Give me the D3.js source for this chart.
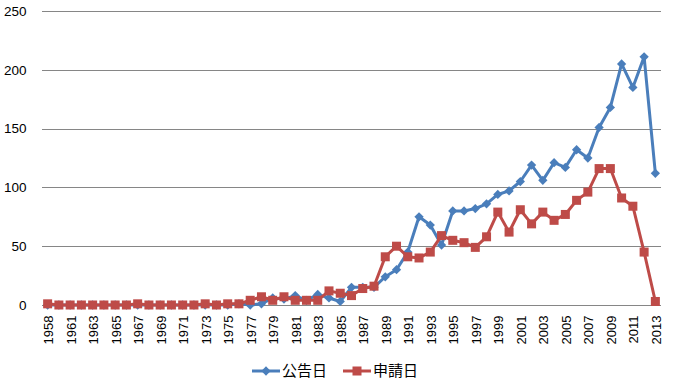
<!DOCTYPE html>
<html><head><meta charset="utf-8">
<script src="https://cdn.jsdelivr.net/npm/d3@7"></script>
<style>html,body{margin:0;padding:0;background:#fff;}svg{display:block;}</style>
</head><body>
<svg id="chart" width="673" height="383"></svg>
<script>
const years = ["1958","1960","1961","1962","1963","1964","1965","1966","1967","1968","1969","1970","1971","1972","1973","1974","1975","1976","1977","1978","1979","1980","1981","1982","1983","1984","1985","1986","1987","1988","1989","1990","1991","1992","1993","1994","1995","1996","1997","1998","1999","2000","2001","2002","2003","2004","2005","2006","2007","2008","2009","2010","2011","2012","2013"];
const koukoku = [0,0,0,0,0,0,0,0,0,0,0,0,0,0,0,0,0,1,0,1,6,5,8,4,9,6,3,15,15,15,24,30,45,75,68,51,80,80,82,86,94,97,105,119,106,121,117,132,125,151,168,205,185,211,112];
const shinsei = [1,0,0,0,0,0,0,0,1,0,0,0,0,0,1,0,1,1,4,7,4,7,4,4,4,12,10,8,14,16,41,50,41,40,45,59,55,53,49,58,79,62,81,69,79,72,77,89,96,116,116,91,84,45,3];
const yTicks = [0,50,100,150,200,250];
const seriesNames = ["公告日","申請日"];
const colors = ["#4A7EBB","#BE4B48"];

const svg = d3.select("#chart");
const pLeft = 42, pRight = 661, pTop = 11, pBottom = 305;
const x = d3.scaleBand().domain(years).range([pLeft, pRight]);
const y = d3.scaleLinear().domain([0,250]).range([pBottom, pTop]);
const cx = d => x(d) + x.bandwidth()/2;

// gridlines
svg.append("g").selectAll("line").data(yTicks).join("line")
  .attr("x1", pLeft).attr("x2", pRight)
  .attr("y1", d => Math.round(y(d))+0.5).attr("y2", d => Math.round(y(d))+0.5)
  .attr("stroke", "#868686").attr("stroke-width", 1);

// y axis labels
const yAxis = d3.axisLeft(y).tickValues(yTicks).tickSize(0).tickPadding(0);
const yg = svg.append("g").attr("transform", `translate(26.5,0)`).call(yAxis);
yg.select(".domain").remove();
yg.selectAll("text").attr("font-family","Liberation Sans, Arial, sans-serif").attr("font-size","13.5px").attr("fill","#000");

// x axis labels
const xAxis = d3.axisBottom(x).tickValues(years.filter((d,i)=>i%2===0)).tickSize(0).tickPadding(0);
const xg = svg.append("g").attr("transform", `translate(0,${pBottom})`).call(xAxis);
xg.select(".domain").remove();
xg.selectAll("text")
  .attr("font-family","Liberation Sans, Arial, sans-serif").attr("font-size","13px").attr("fill","#000")
  .attr("transform","rotate(-90)")
  .attr("text-anchor","end")
  .attr("x",-10.5).attr("y",1).attr("dy","0.35em");

const line = d3.line().x((d,i)=>cx(years[i])).y(d=>y(d));

// blue
svg.append("path").datum(koukoku).attr("d", line).attr("fill","none")
  .attr("stroke", colors[0]).attr("stroke-width",3).attr("stroke-linejoin","round");
svg.append("g").selectAll("path").data(koukoku).join("path")
  .attr("d", d3.symbol(d3.symbolDiamond2, 55)())
  .attr("transform", (d,i)=>`translate(${cx(years[i])},${y(d)})`)
  .attr("fill", colors[0]);
// red
svg.append("path").datum(shinsei).attr("d", line).attr("fill","none")
  .attr("stroke", colors[1]).attr("stroke-width",3).attr("stroke-linejoin","round");
svg.append("g").selectAll("rect").data(shinsei).join("rect")
  .attr("x",(d,i)=>cx(years[i])-4.5).attr("y",d=>y(d)-4.5)
  .attr("width",9).attr("height",9)
  .attr("fill", colors[1]);

// legend
const lg = svg.append("g");
const legX = [252, 343];
seriesNames.forEach((name,i)=>{
  const g = lg.append("g").attr("transform",`translate(${legX[i]},371)`);
  g.append("line").attr("x1",0).attr("x2",28).attr("y1",0).attr("y2",0)
    .attr("stroke",colors[i]).attr("stroke-width",3);
  if(i===0){
    g.append("path").attr("d", d3.symbol(d3.symbolDiamond2, 55)()).attr("transform","translate(14,0)").attr("fill",colors[0]);
  } else {
    g.append("rect").attr("x",9.5).attr("y",-4.5).attr("width",9).attr("height",9).attr("fill",colors[1]);
  }
  g.append("text").attr("x",30).attr("y",0).attr("dy","0.36em")
    .attr("font-family","Noto Sans CJK JP, sans-serif").attr("font-size","15px").attr("fill","#000")
    .text(name);
});
</script>
</body></html>
